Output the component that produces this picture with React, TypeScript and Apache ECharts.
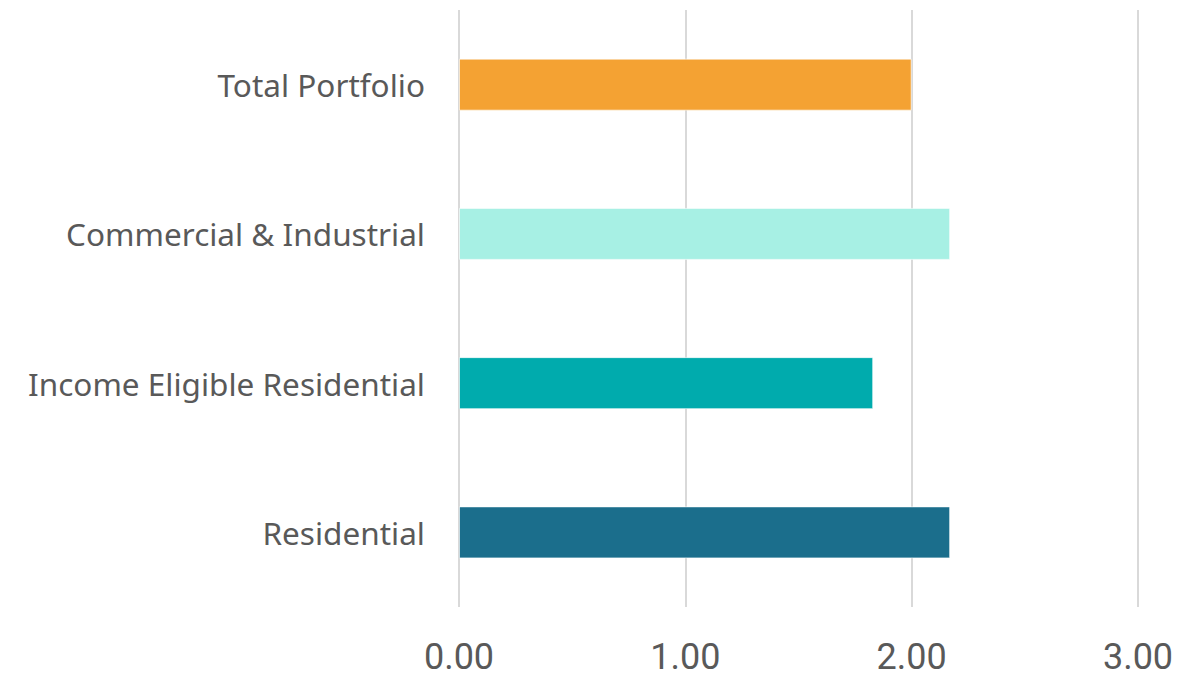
import React, { useEffect, useRef } from "react";
import * as echarts from "echarts";

const categories = ["Residential", "Income Eligible Residential", "Commercial & Industrial", "Total Portfolio"];
const values = [2.17, 1.83, 2.17, 2.0];
const barColors = ["#1B6E8C", "#00ABAD", "#A7F0E4", "#F4A233"];
const tickMin = 0;
const tickMax = 3;
const tickInterval = 1;

export default function App() {
  const ref = useRef<HTMLDivElement>(null);
  useEffect(() => {
    document.body.style.margin = "0";
    const chart = echarts.init(ref.current!, null, { renderer: "svg" });
    chart.setOption({
      animation: false,
      backgroundColor: "#ffffff",
      grid: { left: 459, right: 48, top: 10, bottom: 72, containLabel: false },
      xAxis: {
        type: "value",
        min: tickMin,
        max: tickMax,
        interval: tickInterval,
        axisLine: { show: false },
        axisTick: { show: false },
        splitLine: { show: true, lineStyle: { color: "#D9D9D9", width: 2 } },
        axisLabel: {
          formatter: (v: number) => v.toFixed(2),
          fontFamily: "Roboto, 'Noto Sans', sans-serif",
          fontSize: 36,
          lineHeight: 30,
          color: "#595959",
          margin: 35,
        },
      },
      yAxis: {
        type: "category",
        data: categories,
        axisLine: { show: false },
        axisTick: { show: false },
        splitLine: { show: false },
        axisLabel: {
          fontFamily: "'Noto Sans', 'Open Sans', sans-serif",
          fontSize: 31.5,
          color: "#595959",
          margin: 34,
        },
      },
      series: [
        {
          type: "bar",
          data: values.map((v, i) => ({ value: v, itemStyle: { color: barColors[i] } })),
          barWidth: 52,
          itemStyle: { borderColor: "rgba(255,255,255,0.6)", borderWidth: 1 },
        },
      ],
    });
    return () => chart.dispose();
  }, []);
  return <div ref={ref} style={{ position: "fixed", left: 0, top: 0, width: 1186, height: 679 }} />;
}
